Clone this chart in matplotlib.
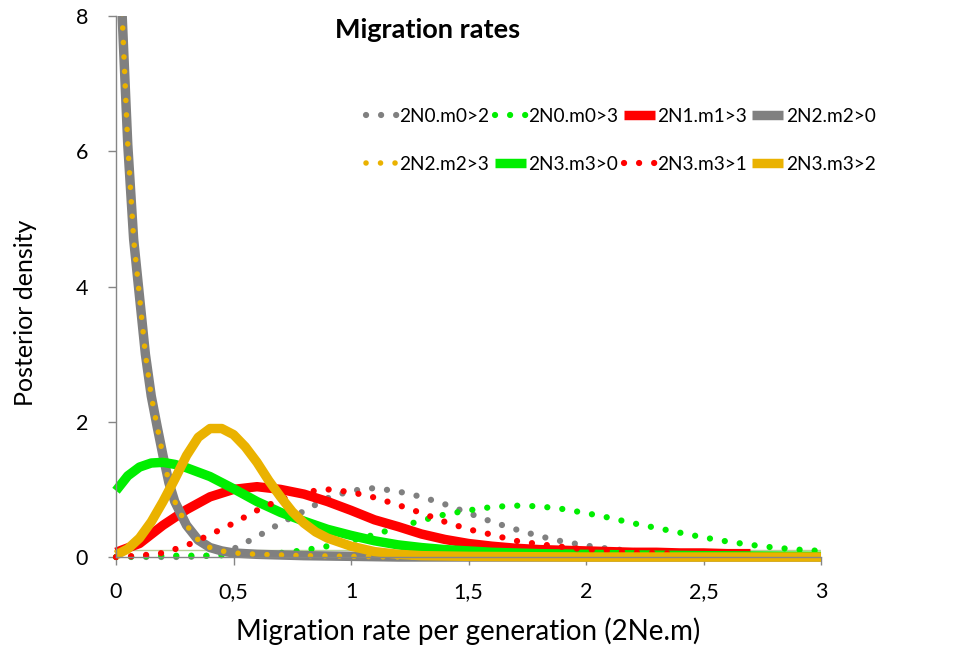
import matplotlib
matplotlib.use("Agg")
import matplotlib.pyplot as plt
from matplotlib.transforms import Bbox, TransformedBbox

plt.rcParams['font.family'] = ['Lato', 'DejaVu Sans']

# ---- data: posterior densities of migration rates ----
x_m02 = [0.0, 0.1, 0.2, 0.3, 0.4, 0.5, 0.6, 0.7, 0.8, 0.9, 1.0, 1.1, 1.2, 1.3,
         1.4, 1.5, 1.6, 1.7, 1.8, 1.9, 2.0, 2.1, 2.2, 2.3, 2.4, 2.5, 2.6, 2.7,
         2.8, 2.9, 3.0]
y_m02 = [0.0, 0.0, 0.0, 0.0, 0.02, 0.12, 0.3, 0.5, 0.68, 0.87, 0.98, 1.02,
         0.97, 0.89, 0.78, 0.65, 0.52, 0.41, 0.31, 0.23, 0.17, 0.12, 0.09,
         0.07, 0.05, 0.04, 0.03, 0.02, 0.02, 0.01, 0.01]

x_m03 = [0.0, 0.1, 0.2, 0.3, 0.4, 0.5, 0.6, 0.7, 0.8, 0.9, 1.0, 1.1, 1.2, 1.3,
         1.4, 1.5, 1.6, 1.7, 1.8, 1.9, 2.0, 2.1, 2.2, 2.3, 2.4, 2.5, 2.6, 2.7,
         2.8, 2.9, 3.0]
y_m03 = [0.0, 0.01, 0.02, 0.02, 0.02, 0.03, 0.04, 0.06, 0.1, 0.16, 0.24, 0.33,
         0.44, 0.54, 0.63, 0.69, 0.74, 0.76, 0.75, 0.71, 0.65, 0.58, 0.5, 0.43,
         0.36, 0.29, 0.23, 0.18, 0.14, 0.11, 0.09]

x_m13 = [0.0, 0.1, 0.2, 0.3, 0.4, 0.5, 0.6, 0.7, 0.8, 0.9, 1.0, 1.1, 1.2, 1.3,
         1.4, 1.5, 1.6, 1.7, 1.8, 1.9, 2.0, 2.1, 2.2, 2.3, 2.4, 2.5, 2.6, 2.7]
y_m13 = [0.07, 0.2, 0.47, 0.7, 0.89, 1.0, 1.04, 1.0, 0.93, 0.82, 0.69, 0.55,
         0.45, 0.34, 0.26, 0.2, 0.16, 0.13, 0.11, 0.1, 0.09, 0.08, 0.07, 0.07,
         0.06, 0.06, 0.05, 0.05]

x_m20 = [0.0, 0.025, 0.05, 0.075, 0.1, 0.125, 0.15, 0.175, 0.2, 0.225, 0.25,
         0.3, 0.35, 0.4, 0.45, 0.5, 0.6, 0.7, 0.8, 1.0, 1.2, 1.5, 2.0, 2.5, 3.0]
y_m20 = [10.5, 8.1, 6.1, 4.7, 3.85, 3.0, 2.38, 1.93, 1.5, 1.1, 0.82, 0.47,
         0.25, 0.14, 0.09, 0.06, 0.04, 0.03, 0.02, 0.01, 0.0, 0.0, 0.0, 0.0, 0.0]

x_m23 = [0.0, 0.025, 0.05, 0.075, 0.1, 0.125, 0.15, 0.175, 0.2, 0.225, 0.25,
         0.3, 0.35, 0.4, 0.45, 0.5, 0.6, 0.7, 0.8, 1.0, 1.2, 1.5, 2.0, 2.5, 3.0]
y_m23 = [10.5, 8.1, 6.1, 4.7, 3.85, 3.0, 2.38, 1.93, 1.5, 1.1, 0.82, 0.47,
         0.25, 0.14, 0.09, 0.06, 0.04, 0.03, 0.02, 0.01, 0.0, 0.0, 0.0, 0.0, 0.0]

x_m30 = [0.0, 0.05, 0.1, 0.15, 0.2, 0.25, 0.3, 0.4, 0.5, 0.6, 0.7, 0.8, 0.9,
         1.0, 1.1, 1.2, 1.3, 1.4, 1.5, 1.6, 1.8, 2.0, 2.5, 3.0]
y_m30 = [0.98, 1.2, 1.33, 1.39, 1.4, 1.37, 1.32, 1.19, 1.01, 0.82, 0.66, 0.53,
         0.41, 0.32, 0.24, 0.18, 0.14, 0.11, 0.09, 0.07, 0.05, 0.04, 0.02, 0.01]

x_m31 = [0.0, 0.1, 0.2, 0.3, 0.4, 0.5, 0.6, 0.7, 0.8, 0.9, 1.0, 1.1, 1.2, 1.3,
         1.4, 1.5, 1.6, 1.7, 1.8, 1.9, 2.0, 2.1, 2.2, 2.3, 2.4]
y_m31 = [0.0, 0.02, 0.06, 0.17, 0.33, 0.5, 0.69, 0.85, 0.96, 1.0, 0.96, 0.88,
         0.77, 0.65, 0.52, 0.41, 0.33, 0.24, 0.19, 0.15, 0.11, 0.09, 0.07,
         0.06, 0.05]

x_m32 = [0.0, 0.05, 0.1, 0.15, 0.2, 0.25, 0.3, 0.35, 0.4, 0.45, 0.5, 0.55,
         0.6, 0.65, 0.7, 0.75, 0.8, 0.85, 0.9, 1.0, 1.1, 1.2, 1.3, 1.5, 2.0,
         2.5, 3.0]
y_m32 = [0.03, 0.12, 0.28, 0.52, 0.82, 1.15, 1.5, 1.77, 1.9, 1.9, 1.81, 1.63,
         1.4, 1.13, 0.89, 0.67, 0.5, 0.37, 0.28, 0.16, 0.08, 0.04, 0.02, 0.01,
         0.0, 0.0, 0.0]

REF_LEVEL = 0.1

labels = ["2N0.m0>2", "2N0.m0>3", "2N1.m1>3", "2N2.m2>0",
          "2N2.m2>3", "2N3.m3>0", "2N3.m3>1", "2N3.m3>2"]

GRAY = "#808080"
GREEN = "#00ee00"
RED = "#ff0000"
ORANGE = "#eab200"
AXIS = "#868686"

series = [
    (x_m02, y_m02, GRAY, "dot"),
    (x_m03, y_m03, GREEN, "dot"),
    (x_m13, y_m13, RED, "solid"),
    (x_m20, y_m20, GRAY, "solid"),
    (x_m23, y_m23, ORANGE, "dotsmall"),
    (x_m30, y_m30, GREEN, "solid"),
    (x_m31, y_m31, RED, "dot"),
    (x_m32, y_m32, ORANGE, "solid"),
]

fig = plt.figure(figsize=(9.7, 6.48), dpi=100)
ax = fig.add_axes([0.1196, 0.1404, 0.7268, 0.8349])

# clip region: cut at the top of the plot area but let lines sit on the axis
clip = TransformedBbox(Bbox([[-0.1, -1.0], [3.1, 8.0]]), ax.transData)

ax.axhline(REF_LEVEL, color="#b9cd98", lw=1.0, zorder=1)

handles = []
for (xs, ys, col, style), lab in zip(series, labels):
    if style == "solid":
        ln, = ax.plot(xs, ys, color=col, lw=6.8, solid_capstyle="butt",
                      solid_joinstyle="round", label=lab)
    elif style == "dot":
        ln, = ax.plot(xs, ys, color=col, lw=4.5, linestyle=(0, (0.01, 2.4)),
                      dash_capstyle="round", label=lab)
    else:
        ln, = ax.plot(xs, ys, color=col, lw=4.0, linestyle=(0, (0.01, 2.6)),
                      dash_capstyle="round", label=lab)
    ln.set_clip_box(clip)
    handles.append(ln)

ax.set_xlim(0, 3)
ax.set_ylim(0, 8)
ax.set_xticks([0, 0.5, 1, 1.5, 2, 2.5, 3])
ax.set_xticklabels(["0", "0,5", "1", "1,5", "2", "2,5", "3"])
ax.set_yticks([0, 2, 4, 6, 8])
ax.set_yticklabels(["0", "2", "4", "6", "8"])

for side in ("top", "right"):
    ax.spines[side].set_visible(False)
for side in ("left", "bottom"):
    ax.spines[side].set_color(AXIS)
    ax.spines[side].set_linewidth(1.0)
ax.tick_params(axis="both", direction="out", length=6, width=1.0,
               color=AXIS, labelsize=15.5, labelcolor="black")
ax.tick_params(axis="x", pad=12)
ax.tick_params(axis="y", pad=14)

ax.set_xlabel("Migration rate per generation (2Ne.m)", fontsize=20, labelpad=11)
ax.set_ylabel("Posterior density", fontsize=18)
ax.yaxis.set_label_coords(-0.112, 0.452)

fig.text(0.441, 0.954, "Migration rates", fontsize=19.5, fontweight="bold",
         ha="center", va="center")

# legend filled row by row (matplotlib fills column by column)
order = [0, 4, 1, 5, 2, 6, 3, 7]
leg = fig.legend([handles[i] for i in order], [labels[i] for i in order],
                 ncol=4, loc="upper left", bbox_to_anchor=(0.377, 0.834),
                 frameon=False, fontsize=13.7, handlelength=1.62,
                 handletextpad=0.15, columnspacing=0.28, labelspacing=1.65,
                 borderaxespad=0, borderpad=0)

fig.savefig("out.png", dpi=100)
